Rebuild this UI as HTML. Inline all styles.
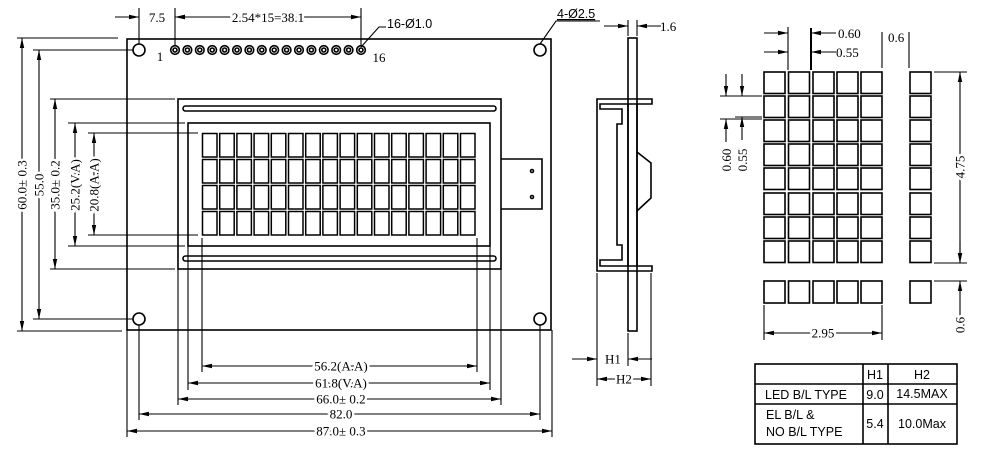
<!DOCTYPE html>
<html><head><meta charset="utf-8"><style>
html,body{margin:0;padding:0;background:#fff}
svg{display:block}
text{font-family:"Liberation Serif",serif;font-size:13px;fill:#000}
.s{font-family:"Liberation Sans",sans-serif;font-size:12.5px}
.w{stroke:#fff;stroke-width:5px;paint-order:stroke}
</style></head><body>
<svg width="1000" height="455" viewBox="0 0 1000 455" xmlns="http://www.w3.org/2000/svg">
<defs>
<marker id="a" viewBox="0 0 10 6" refX="10" refY="3" markerWidth="10" markerHeight="6" markerUnits="userSpaceOnUse" orient="auto-start-reverse"><path d="M0,0.8 L10,3 L0,5.2 Z" fill="#000"/></marker>
</defs>
<g fill="none" stroke="#000" stroke-width="1.6">
<!-- PCB -->
<rect x="127" y="39" width="424" height="291"/>
<circle cx="139" cy="50" r="6"/><circle cx="540" cy="50" r="6"/>
<circle cx="139" cy="319" r="6"/><circle cx="540" cy="319" r="6"/>
<!-- pins -->
<g id="pins"></g>
<!-- bezel -->
<rect x="178" y="99" width="323" height="170"/>
<rect x="188" y="123" width="302" height="123"/>
<rect x="183" y="106" width="313" height="5" rx="2.5"/>
<rect x="183" y="256" width="313" height="5" rx="2.5"/>
<!-- tab -->
<path d="M501,159 H542 V209 H501"/>
<circle cx="532" cy="171" r="1.5"/><circle cx="532" cy="197" r="1.5"/>
</g>
<g id="cells" fill="none" stroke="#000" stroke-width="1.5"></g>
<g fill="none" stroke="#000" stroke-width="1.1">
<!-- top dims -->
<line x1="139" y1="8" x2="139" y2="44"/><line x1="175" y1="8" x2="175" y2="46"/><line x1="361" y1="8" x2="361" y2="46"/>
<line x1="115" y1="17" x2="139" y2="17" marker-end="url(#a)"/>
<line x1="175" y1="17" x2="195" y2="17" marker-start="url(#a)"/>
<line x1="175" y1="17" x2="361" y2="17" marker-start="url(#a)" marker-end="url(#a)"/>
<path d="M361,47 L379,27 H386"/>
<!-- left dims -->
<line x1="17" y1="38" x2="118" y2="38"/><line x1="17" y1="331" x2="122" y2="331"/>
<line x1="22" y1="38" x2="22" y2="331" marker-start="url(#a)" marker-end="url(#a)"/>
<line x1="33" y1="50" x2="133" y2="50"/><line x1="33" y1="319" x2="133" y2="319"/>
<line x1="39" y1="50" x2="39" y2="319" marker-start="url(#a)" marker-end="url(#a)"/>
<line x1="50" y1="99" x2="175" y2="99"/><line x1="50" y1="269" x2="175" y2="269"/>
<line x1="55" y1="99" x2="55" y2="269" marker-start="url(#a)" marker-end="url(#a)"/>
<line x1="68" y1="123" x2="185" y2="123"/><line x1="68" y1="246" x2="185" y2="246"/>
<line x1="75" y1="123" x2="75" y2="246" marker-start="url(#a)" marker-end="url(#a)"/>
<line x1="88" y1="133" x2="198" y2="133"/><line x1="88" y1="235" x2="198" y2="235"/>
<line x1="94" y1="133" x2="94" y2="235" marker-start="url(#a)" marker-end="url(#a)"/>
<!-- bottom dims -->
<line x1="202" y1="238" x2="202" y2="372"/><line x1="477" y1="238" x2="477" y2="372"/>
<line x1="202" y1="366" x2="477" y2="366" marker-start="url(#a)" marker-end="url(#a)"/>
<line x1="188" y1="246" x2="188" y2="390"/><line x1="490" y1="246" x2="490" y2="390"/>
<line x1="188" y1="383" x2="490" y2="383" marker-start="url(#a)" marker-end="url(#a)"/>
<line x1="178" y1="269" x2="178" y2="405"/><line x1="501" y1="269" x2="501" y2="405"/>
<line x1="178" y1="399" x2="501" y2="399" marker-start="url(#a)" marker-end="url(#a)"/>
<line x1="139" y1="325" x2="139" y2="420"/><line x1="540" y1="325" x2="540" y2="420"/>
<line x1="139" y1="414" x2="540" y2="414" marker-start="url(#a)" marker-end="url(#a)"/>
<line x1="127" y1="330" x2="127" y2="437"/><line x1="552" y1="330" x2="552" y2="437"/>
<line x1="127" y1="431" x2="552" y2="431" marker-start="url(#a)" marker-end="url(#a)"/>
</g>
<!-- side view -->
<g fill="none" stroke="#000" stroke-width="1.6">
<rect x="628" y="38" width="9" height="293"/>
<path d="M652,99 L597,99 L597,271 L652,271 L652,266 L600,266 L600,260 L622,260 L622,245 L617,245 L617,124 L622,124 L622,109 L600,109 L600,104 L652,104 Z" fill="#fff"/>
<line x1="628" y1="99" x2="628" y2="271"/><line x1="637" y1="99" x2="637" y2="271"/>
<path d="M637,152 L651,163 V198 L637,211"/>
</g>
<g fill="none" stroke="#000" stroke-width="1.1">
<line x1="628" y1="20" x2="628" y2="36"/><line x1="637" y1="20" x2="637" y2="36"/>
<line x1="604" y1="26" x2="628" y2="26" marker-end="url(#a)"/>
<line x1="661" y1="26" x2="637" y2="26" marker-end="url(#a)"/>
<line x1="597" y1="273" x2="597" y2="386"/><line x1="651" y1="273" x2="651" y2="386"/><line x1="628" y1="333" x2="628" y2="366"/>
<line x1="572" y1="359" x2="597" y2="359" marker-end="url(#a)"/>
<line x1="652" y1="359" x2="628" y2="359" marker-end="url(#a)"/>
<line x1="597" y1="379" x2="651" y2="379" marker-start="url(#a)" marker-end="url(#a)"/>
<path d="M540,44 L556,21 H600"/>
</g>
<!-- char detail -->
<g id="dots" fill="none" stroke="#000" stroke-width="1.6"></g>
<g fill="none" stroke="#000" stroke-width="1.1">
<line x1="788" y1="27" x2="788" y2="70"/><line x1="811" y1="28" x2="811" y2="70" stroke-width="2"/>
<line x1="764" y1="33" x2="788" y2="33" marker-end="url(#a)"/>
<line x1="836" y1="33" x2="811" y2="33" marker-end="url(#a)"/>
<line x1="764" y1="52" x2="788" y2="52" marker-end="url(#a)"/>
<line x1="836" y1="52" x2="811" y2="52" marker-end="url(#a)"/>
<line x1="882" y1="32" x2="882" y2="68"/><line x1="909" y1="32" x2="909" y2="68"/>
<line x1="720" y1="96" x2="762" y2="96"/><line x1="720" y1="119" x2="762" y2="119"/><line x1="735" y1="117" x2="762" y2="117"/>
<line x1="726" y1="74" x2="726" y2="96" marker-end="url(#a)"/>
<line x1="726" y1="142" x2="726" y2="119" marker-end="url(#a)"/>
<line x1="742" y1="74" x2="742" y2="96" marker-end="url(#a)"/>
<line x1="742" y1="140" x2="742" y2="117" marker-end="url(#a)"/>
<line x1="934" y1="72" x2="967" y2="72"/><line x1="934" y1="263" x2="967" y2="263"/><line x1="934" y1="281" x2="967" y2="281"/>
<line x1="960" y1="72" x2="960" y2="263" marker-start="url(#a)" marker-end="url(#a)"/>
<line x1="960" y1="241" x2="960" y2="263" marker-end="url(#a)"/>
<line x1="960" y1="335" x2="960" y2="281" marker-end="url(#a)"/>
<line x1="764" y1="305" x2="764" y2="340"/><line x1="882" y1="305" x2="882" y2="340"/>
<line x1="764" y1="333" x2="882" y2="333" marker-start="url(#a)" marker-end="url(#a)"/>
</g>
<!-- table -->
<g fill="none" stroke="#000" stroke-width="1.6">
<rect x="755" y="364" width="202" height="80"/>
<line x1="863" y1="364" x2="863" y2="444"/><line x1="888" y1="364" x2="888" y2="444"/>
<line x1="755" y1="384" x2="957" y2="384"/><line x1="755" y1="404" x2="957" y2="404"/>
</g>
<!-- texts -->
<text x="157" y="22" text-anchor="middle" class="w">7.5</text>
<text x="268" y="22" text-anchor="middle" class="w">2.54*15=38.1</text>
<text x="387" y="28" class="s">16-Ø1.0</text>
<text x="160" y="61" text-anchor="middle">1</text>
<text x="379" y="62" text-anchor="middle">16</text>
<text x="557" y="18" class="s" style="text-decoration:underline">4-Ø2.5</text>
<text x="660" y="31">1.6</text>
<text transform="translate(26.5,185) rotate(-90)" text-anchor="middle" class="w">60.0± 0.3</text>
<text transform="translate(43.5,185) rotate(-90)" text-anchor="middle" class="w">55.0</text>
<text transform="translate(59.5,185) rotate(-90)" text-anchor="middle" class="w">35.0± 0.2</text>
<text transform="translate(79.5,185) rotate(-90)" text-anchor="middle" class="w">25.2(V.A)</text>
<text transform="translate(98.5,185) rotate(-90)" text-anchor="middle" class="w">20.8(A.A)</text>
<text x="341" y="370.5" text-anchor="middle" class="w">56.2(A.A)</text>
<text x="341" y="387.5" text-anchor="middle" class="w">61.8(V.A)</text>
<text x="341" y="403.5" text-anchor="middle" class="w">66.0± 0.2</text>
<text x="341" y="418.5" text-anchor="middle" class="w">82.0</text>
<text x="341" y="435.5" text-anchor="middle" class="w">87.0± 0.3</text>
<text x="613" y="363.5" text-anchor="middle" class="w">H1</text>
<text x="624" y="383.5" text-anchor="middle" class="w">H2</text>
<text x="838" y="38">0.60</text>
<text x="836" y="57">0.55</text>
<text x="888" y="42">0.6</text>
<text transform="translate(731,160) rotate(-90)" text-anchor="middle">0.60</text>
<text transform="translate(747,160) rotate(-90)" text-anchor="middle">0.55</text>
<text transform="translate(964.5,167) rotate(-90)" text-anchor="middle" class="w">4.75</text>
<text transform="translate(964.5,325) rotate(-90)" text-anchor="middle" class="w">0.6</text>
<text x="823" y="337.5" text-anchor="middle" class="w">2.95</text>
<text x="875" y="379" text-anchor="middle" class="s">H1</text>
<text x="922" y="379" text-anchor="middle" class="s">H2</text>
<text x="765" y="399" class="s">LED B/L TYPE</text>
<text x="875" y="399" text-anchor="middle" class="s">9.0</text>
<text x="922" y="398" text-anchor="middle" class="s">14.5MAX</text>
<text x="766" y="419" class="s">EL B/L &amp;</text>
<text x="766" y="436" class="s">NO B/L TYPE</text>
<text x="875" y="428" text-anchor="middle" class="s">5.4</text>
<text x="922" y="428" text-anchor="middle" class="s">10.0Max</text>
<script>
var NS="http://www.w3.org/2000/svg";
function el(p,t,a){var e=document.createElementNS(NS,t);for(var k in a)e.setAttribute(k,a[k]);p.appendChild(e);}
var g=document.getElementById("pins");
for(var i=0;i<16;i++){var x=175+12.4*i;el(g,"circle",{cx:x,cy:50,r:4.3});el(g,"circle",{cx:x,cy:50,r:2});}
var c=document.getElementById("cells");
for(var r=0;r<4;r++)for(var j=0;j<16;j++)el(c,"rect",{x:202.5+17.2*j,y:133.5+26*r,width:14.5,height:23.5});
var d=document.getElementById("dots");
var cx=[764,788.5,813,837,861];
var ry=[72,96,120,144,168,193,217,241];
for(var r=0;r<8;r++){for(var j=0;j<5;j++)el(d,"rect",{x:cx[j],y:ry[r],width:21,height:21.5});el(d,"rect",{x:910,y:ry[r],width:21,height:21.5});}
for(var j=0;j<5;j++)el(d,"rect",{x:cx[j],y:281,width:21,height:22});
el(d,"rect",{x:910,y:281,width:21,height:22});
</script>
</svg>
</body></html>
